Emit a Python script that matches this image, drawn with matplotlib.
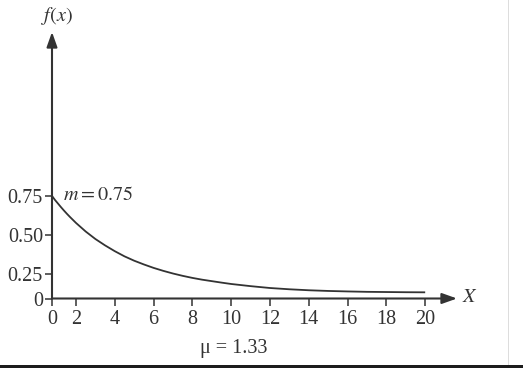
import numpy as np
import matplotlib
matplotlib.use('Agg')
import matplotlib.pyplot as plt
from matplotlib.patches import Rectangle

plt.rcParams['font.family'] = ['Liberation Serif', 'DejaVu Serif']
plt.rcParams['mathtext.fontset'] = 'stix'

# curve values
x = [0, 0.25, 0.5, 0.75, 1, 1.25, 1.5, 1.75, 2, 2.5, 3, 3.5, 4, 4.5, 5, 5.5,
     6, 6.5, 7, 7.5, 8, 8.5, 9, 9.5, 10, 11, 12, 13, 14, 15, 16, 17, 18, 19, 20]
fx = [0.75, 0.724, 0.701, 0.678, 0.656, 0.635, 0.615, 0.596, 0.577, 0.522,
      0.474, 0.433, 0.396, 0.363, 0.335, 0.311, 0.289, 0.270, 0.253, 0.231,
      0.210, 0.192, 0.177, 0.162, 0.148, 0.126, 0.107, 0.094, 0.084, 0.077,
      0.072, 0.068, 0.066, 0.064, 0.063]
xticks = [0, 2, 4, 6, 8, 10, 12, 14, 16, 18, 20]
yticks = [0, 0.25, 0.5, 0.75]
ylabels = ['0', '0.25', '0.50', '0.75']

col = '#333333'
fs = 14.5

# first interval on each axis is drawn shorter than the rest
kx = 12 / 19.4
ky = 24.5 / 39.0


def xf(v):
    v = np.asarray(v, dtype=float)
    return np.where(v < 2, v * kx, 2 * kx + (v - 2))


def xi(t):
    t = np.asarray(t, dtype=float)
    return np.where(t < 2 * kx, t / kx, t - 2 * kx + 2)


def yf(v):
    v = np.asarray(v, dtype=float)
    return np.where(v < 0.25, v * ky, 0.25 * ky + (v - 0.25))


def yi(t):
    t = np.asarray(t, dtype=float)
    return np.where(t < 0.25 * ky, t / ky, t - 0.25 * ky + 0.25)


fig = plt.figure(figsize=(5.32, 3.68), dpi=100)
ax = fig.add_axes([52 / 532, 69.5 / 368, 405 / 532, 266.5 / 368])
ax.set_xscale('function', functions=(xf, xi))
ax.set_yscale('function', functions=(yf, yi))
xmax = 21.64
ymax = 1.80
ax.set_xlim(0, xmax)
ax.set_ylim(0, ymax)

ax.plot(x, fx, color=col, lw=1.3, solid_capstyle='butt', solid_joinstyle='round')

for s in ax.spines.values():
    s.set_visible(False)

arr = dict(arrowstyle='-|>,head_length=0.9,head_width=0.32', color=col, lw=1.5,
           shrinkA=0, shrinkB=0)
ax.annotate('', xy=(xmax, 0), xytext=(0, 0), arrowprops=arr, annotation_clip=False)
ax.annotate('', xy=(0, ymax), xytext=(0, 0), arrowprops=arr, annotation_clip=False)

ax.set_xticks(xticks)
ax.set_xticklabels([str(t) for t in xticks])
ax.set_yticks(yticks)
ax.set_yticklabels(ylabels)
ax.minorticks_off()
ax.tick_params(axis='x', direction='out', length=5, width=1.1, color=col,
               labelcolor=col, labelsize=fs, pad=3.5)
ax.tick_params(axis='y', direction='out', length=5, width=1.1, color=col,
               labelcolor=col, labelsize=fs, pad=1.5)

ax.annotate(r'$m = 0.75$', xy=(0, 0.75), xytext=(8, 0), textcoords='offset points',
            ha='left', va='center', fontsize=fs, color=col)

fig.text(57 / 532, 1 - 16 / 368, r'$f(x)$', ha='center', va='center',
         fontsize=fs, color=col)
fig.text(462 / 532, 1 - 298 / 368, r'$X$', ha='left', va='center',
         fontsize=fs, color=col)
fig.text(234 / 532, 1 - 348 / 368, 'μ = 1.33', ha='center', va='center',
         fontsize=fs, color=col)

# screenshot border bits
fig.patches.append(Rectangle((0, 0), 523 / 532, 3 / 368, transform=fig.transFigure,
                             color='#1c1c1c', lw=0))
fig.patches.append(Rectangle((507.5 / 532, 3 / 368), 1 / 532, 365 / 368,
                             transform=fig.transFigure, color='#dddddd', lw=0))

fig.savefig('out.png', dpi=100)
